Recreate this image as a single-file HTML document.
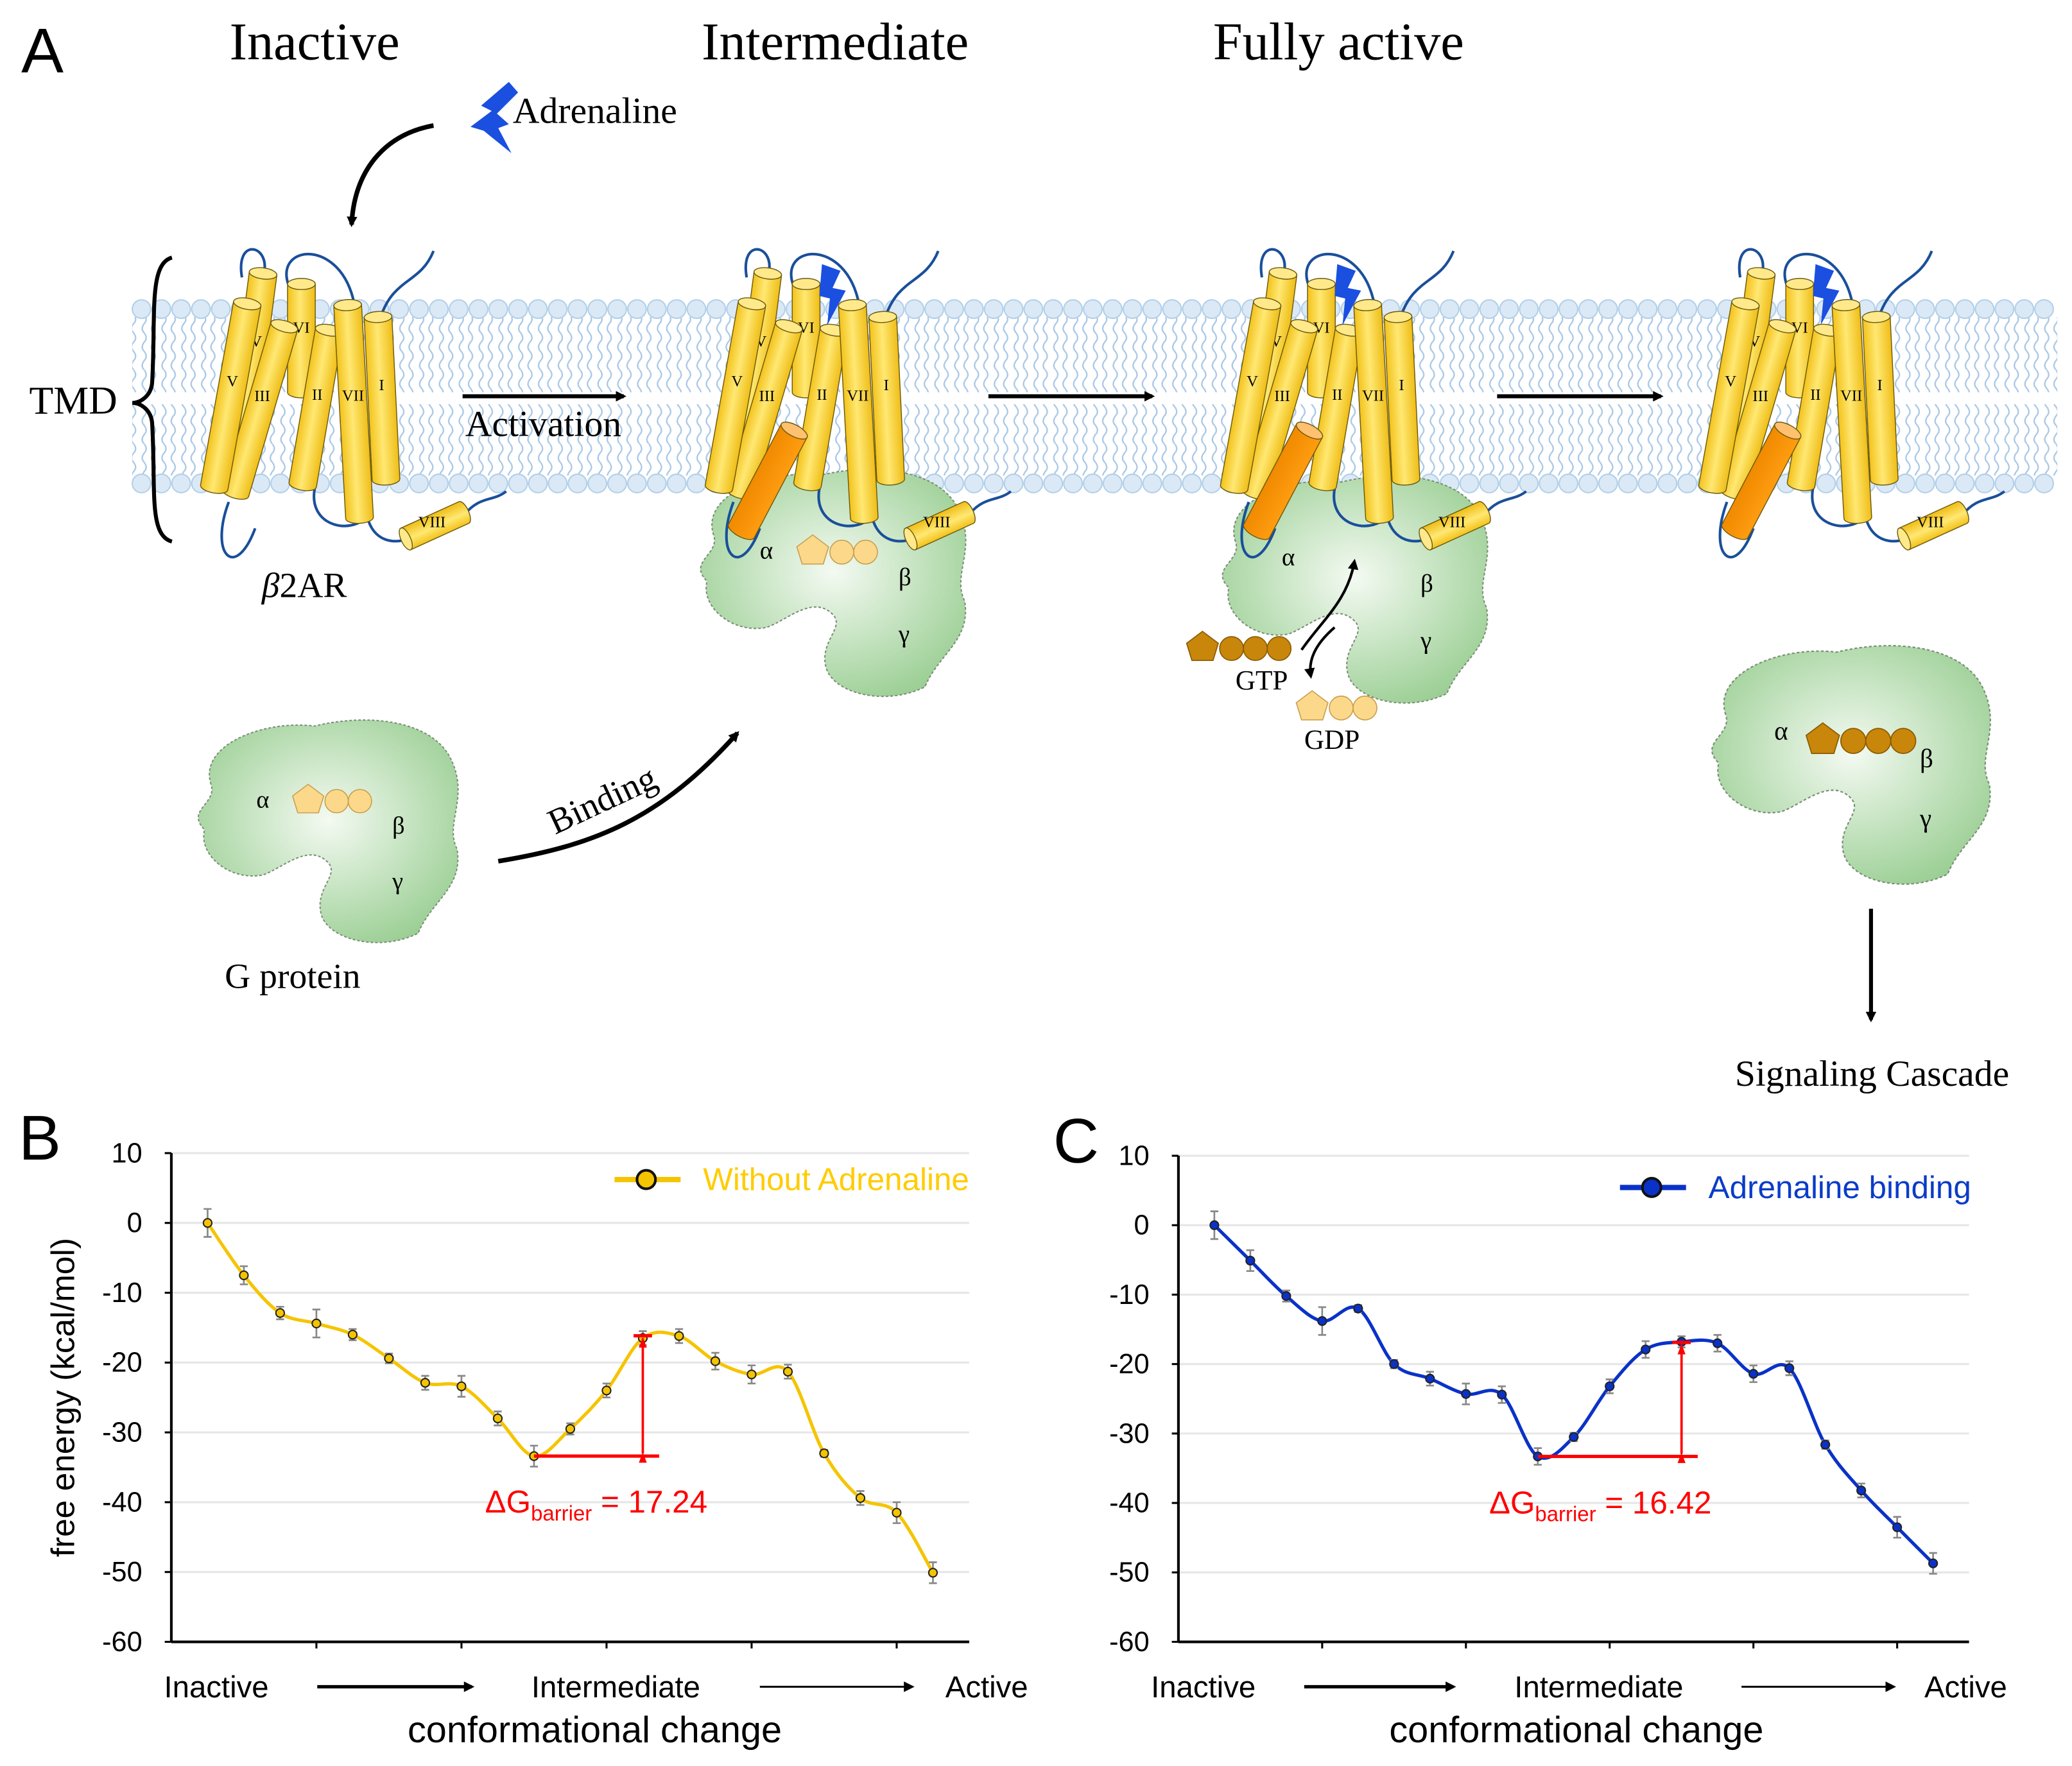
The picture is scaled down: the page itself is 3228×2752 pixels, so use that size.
<!DOCTYPE html>
<html><head><meta charset="utf-8"><style>
html,body{margin:0;padding:0;background:#fff;}
svg{display:block;}
</style></head><body>
<svg id="fig" width="3228" height="2752" viewBox="0 0 1568 1337" xmlns="http://www.w3.org/2000/svg" font-family="Liberation Sans, sans-serif">
<defs>
<pattern id="tails" width="15" height="56" patternUnits="userSpaceOnUse">
<path d="M4,0 q3,4 0,7 q-3,4 0,7 q3,4 0,7 q-3,4 0,7 q3,4 0,7 q-3,4 0,7 q3,4 0,7 q-3,4 0,7" fill="none" stroke="#a9c8e6" stroke-width="1.1"/>
<path d="M11,0 q3,4 0,7 q-3,4 0,7 q3,4 0,7 q-3,4 0,7 q3,4 0,7 q-3,4 0,7 q3,4 0,7 q-3,4 0,7" fill="none" stroke="#a9c8e6" stroke-width="1.1"/>
</pattern>
<radialGradient id="gpg" cx="0.5" cy="0.45" r="0.6"><stop offset="0" stop-color="#f4faf2"/><stop offset="1" stop-color="#9ccf95"/></radialGradient>
<linearGradient id="cylg" x1="0" x2="1" y1="0" y2="0"><stop offset="0" stop-color="#f3c21a"/><stop offset="0.45" stop-color="#ffe873"/><stop offset="1" stop-color="#efbd16"/></linearGradient>
<linearGradient id="orag" x1="0" x2="1"><stop offset="0" stop-color="#f08a00"/><stop offset="1" stop-color="#ff9c10"/></linearGradient>
<marker id="ah" markerWidth="8" markerHeight="8" refX="6" refY="4" orient="auto" markerUnits="userSpaceOnUse"><path d="M0,0 L8,4 L0,8 Z" fill="#000"/></marker>
<marker id="rah" markerWidth="8" markerHeight="8" refX="7" refY="4" orient="auto" markerUnits="userSpaceOnUse"><path d="M0,1 L8,4 L0,7 Z" fill="#ff0000"/></marker>
</defs>

<g id="panelA">
<text x="16" y="55" font-size="48">A</text>
<g font-family="Liberation Serif, serif" font-size="40">
<text x="238" y="45" text-anchor="middle">Inactive</text>
<text x="632" y="45" text-anchor="middle">Intermediate</text>
<text x="1013" y="45" text-anchor="middle">Fully active</text>
</g>
<g id="membrane">
<rect x="100" y="240" width="1457" height="57" fill="url(#tails)"/>
<rect x="100" y="306" width="1457" height="54" fill="url(#tails)"/>
<g id="heads"></g>
</g>
<g id="proteins"></g>
<g font-family="Liberation Serif, serif">
<path d="M385,62 L364,80 L372,84 L356,96 L366,99 L387,116 L377,97 L385,94 L376,86 L392,70 Z" fill="#1a4fe0"/>
<text x="388" y="93" font-size="28">Adrenaline</text>
<path d="M328,95 C290,102 268,130 266,170" fill="none" stroke="#000" stroke-width="3.5" marker-end="url(#ah)"/>
<text x="22" y="313" font-size="30">TMD</text>
<path d="M130,195 C112,200 118,240 115,290 C114,300 106,305 100,305 C106,305 114,310 115,320 C118,370 112,405 130,410" fill="none" stroke="#000" stroke-width="3"/>
<line x1="350" y1="300" x2="472" y2="300" stroke="#000" stroke-width="3" marker-end="url(#ah)"/>
<text x="352" y="330" font-size="28">Activation</text>
<line x1="748" y1="300" x2="872" y2="300" stroke="#000" stroke-width="3" marker-end="url(#ah)"/>
<line x1="1133" y1="300" x2="1257" y2="300" stroke="#000" stroke-width="3" marker-end="url(#ah)"/>
<text x="198" y="452" font-size="27"><tspan font-style="italic">β</tspan>2AR</text>
<text x="170" y="748" font-size="27">G protein</text>
<path d="M377,652 C450,640 500,620 558,555" fill="none" stroke="#000" stroke-width="3.5" marker-end="url(#ah)"/>
<text x="420" y="632" font-size="27" transform="rotate(-25 420 632)">Binding</text>
<text x="935" y="522" font-size="21">GTP</text>
<text x="987" y="567" font-size="21">GDP</text>
<path d="M985,492 C1000,470 1020,455 1025,425" fill="none" stroke="#000" stroke-width="2" marker-end="url(#ah)"/>
<path d="M1010,475 C995,488 990,500 992,512" fill="none" stroke="#000" stroke-width="2" marker-end="url(#ah)"/>
<line x1="1416" y1="688" x2="1416" y2="772" stroke="#000" stroke-width="3" marker-end="url(#ah)"/>
<text x="1313" y="822" font-size="28">Signaling Cascade</text>
</g>
</g>

<g id="chartB"></g>
<g id="chartC"></g>
</svg>
<script>
// ---------- chart data ----------
const stepIndex = [0,1,2,3,4,5,6,7,8,9,10,11,12,13,14,15,16,17,18,19,20];
const energyWithout = [0,-7.5,-12.9,-14.4,-16.0,-19.4,-22.9,-23.4,-28.0,-33.4,-29.5,-24.0,-16.5,-16.2,-19.8,-21.7,-21.3,-33.0,-39.4,-41.5,-50.1];
const errWithout = [2,1.3,0.9,2,0.8,0.7,1,1.5,1,1.5,0.8,1,1,1,1.2,1.3,1,0.5,1,1.5,1.5];
const energyWith = [0,-5.1,-10.2,-13.8,-12.0,-20.0,-22.1,-24.3,-24.4,-33.3,-30.5,-23.2,-17.9,-16.8,-17.0,-21.4,-20.6,-31.6,-38.2,-43.5,-48.7];
const errWith = [2,1.5,0.8,2,0.5,0.6,1,1.5,1.2,1.2,0.6,1,1.2,0.8,1.2,1.2,1,0.6,1,1.5,1.5];
const yTicks = [10,0,-10,-20,-30,-40,-50,-60];
const xTickIndex = [3,7,11,15,19];
const barrierB = [9,12,17.24];
const barrierC = [9,13,16.42];
const stageLabels = ["Inactive","Intermediate","Active"];

const NS="http://www.w3.org/2000/svg";
function mk(parent,tag,attrs,txt){const e=document.createElementNS(NS,tag);for(const k in attrs)e.setAttribute(k,attrs[k]);if(txt!==undefined)e.textContent=txt;parent.appendChild(e);return e;}

function spline(pts){let d="M"+pts[0][0]+","+pts[0][1];for(let i=0;i<pts.length-1;i++){const p0=pts[Math.max(i-1,0)],p1=pts[i],p2=pts[i+1],p3=pts[Math.min(i+2,pts.length-1)];const c1x=p1[0]+(p2[0]-p0[0])/6,c1y=p1[1]+(p2[1]-p0[1])/6,c2x=p2[0]-(p3[0]-p1[0])/6,c2y=p2[1]-(p3[1]-p1[1])/6;d+=" C"+c1x+","+c1y+" "+c2x+","+c2y+" "+p2[0]+","+p2[1];}return d;}

function drawChart(g,cfg){
  const x=i=>cfg.x0+i*(cfg.x1-cfg.x0)/20;
  const y=v=>cfg.yTop+(10-v)*(cfg.yBot-cfg.yTop)/70;
  const axL=x(-1), axR=x(21);
  mk(g,"text",{x:cfg.lx,y:cfg.ly,"font-size":48,},cfg.letter);
  yTicks.forEach(v=>{
    if(v>-60){const gl=mk(g,"line",{x1:axL,x2:axR,y1:y(v),y2:y(v),stroke:"#e6e6e6","stroke-width":1.5});
    
    }
    const tk=mk(g,"line",{x1:axL-5,x2:axL,y1:y(v),y2:y(v),stroke:"#000","stroke-width":1.5});
    
    
    const t=mk(g,"text",{x:axL-22,y:y(v)+7,"font-size":21,"text-anchor":"end"},String(v));
    
    
  });
  const ya=mk(g,"line",{x1:axL,x2:axL,y1:y(10),y2:y(-60),stroke:"#000","stroke-width":2});
  
  
  const xa=mk(g,"line",{x1:axL,x2:axR,y1:y(-60),y2:y(-60),stroke:"#000","stroke-width":2});
  
  
  xTickIndex.forEach(i=>{const t=mk(g,"line",{x1:x(i),x2:x(i),y1:y(-60),y2:y(-60)+5,stroke:"#000","stroke-width":1.5});
    
    });
  if(cfg.ytitle){const yt=mk(g,"text",{x:0,y:0,"font-size":25,"text-anchor":"middle",transform:"translate(56,1058) rotate(-90)"},"free energy (kcal/mol)");
    
    }
  const ly=1285;
  const l1=mk(g,"text",{x:cfg.lab[0],y:ly,"font-size":23},stageLabels[0]);
  
  
  const l2=mk(g,"text",{x:cfg.lab[1],y:ly,"font-size":23,"text-anchor":"middle"},stageLabels[1]);
  
  
  const l3=mk(g,"text",{x:cfg.lab[2],y:ly,"font-size":23,"text-anchor":"end"},stageLabels[2]);
  
  
  [[cfg.arr[0],cfg.arr[1],2.5],[cfg.arr[2],cfg.arr[3],1.5]].forEach(a=>{const ar=mk(g,"line",{x1:a[0],x2:a[1],y1:ly-8,y2:ly-8,stroke:"#000","stroke-width":a[2],"marker-end":"url(#ah)"});
    
    });
  const xt=mk(g,"text",{x:cfg.lab[3],y:1319,"font-size":28,"text-anchor":"middle"},"conformational change");
  
  
  // series
  const pts=stepIndex.map(i=>[x(i),y(cfg.vals[i])]);
  const ln=mk(g,"path",{d:spline(pts),fill:"none",stroke:cfg.color,"stroke-width":2.5});
  
  
  stepIndex.forEach(i=>{
    const e=cfg.errs[i], cx=x(i);
    const eb=mk(g,"path",{d:`M${cx},${y(cfg.vals[i]+e)}V${y(cfg.vals[i]-e)}M${cx-3},${y(cfg.vals[i]+e)}H${cx+3}M${cx-3},${y(cfg.vals[i]-e)}H${cx+3}`,stroke:"#888","stroke-width":1.3,fill:"none"});
    
    
    const c=mk(g,"circle",{cx:cx,cy:y(cfg.vals[i]),r:3.2,fill:cfg.color,stroke:"#222","stroke-width":1});
    
    
  });
  // barrier
  const bmin=cfg.vals[cfg.bar[0]], btop=bmin+cfg.bar[2];
  const hl=mk(g,"line",{x1:x(cfg.bar[0]),x2:x(cfg.bar[1]+0.45),y1:y(bmin),y2:y(bmin),stroke:"#ff0000","stroke-width":2.5});
  
  
  const cap=mk(g,"line",{x1:x(cfg.bar[1])-7,x2:x(cfg.bar[1])+7,y1:y(btop),y2:y(btop),stroke:"#ff0000","stroke-width":2.5});
  
  
  const vl=mk(g,"line",{x1:x(cfg.bar[1]),x2:x(cfg.bar[1]),y1:y(bmin)-2,y2:y(btop)+2,stroke:"#ff0000","stroke-width":1.8,"marker-end":"url(#rah)","marker-start":"url(#rah)"});
  
  
  const bt=mk(g,"text",{x:cfg.bx,y:y(-41.5),"font-size":24,fill:"#ff0000"});
  
  
  mk(bt,"tspan",{},"ΔG");
  mk(bt,"tspan",{"font-size":16,dy:6},"barrier");
  mk(bt,"tspan",{dy:-6}," = "+cfg.bar[2].toFixed(2));
  // legend
  const lg=mk(g,"g",{});
  
  
  mk(lg,"line",{x1:cfg.lgx,x2:cfg.lgx+50,y1:cfg.lgy,y2:cfg.lgy,stroke:cfg.color,"stroke-width":4});
  mk(lg,"circle",{cx:cfg.lgx+24,cy:cfg.lgy,r:7,fill:cfg.color,stroke:"#111","stroke-width":2});
  mk(lg,"text",{x:cfg.lgx+67,y:cfg.lgy+8,"font-size":24,fill:cfg.tcolor},cfg.name);
}
drawChart(document.getElementById("chartB"),{x0:157,x1:706,yTop:873,yBot:1243,vals:energyWithout,errs:errWithout,color:"#f5c400",tcolor:"#ffcc00",name:"Without Adrenaline",letter:"B",lx:14,ly:878,ytitle:true,bar:barrierB,bx:367,lgx:465,lgy:893,lab:[124,466,778,450],arr:[240,357,575,690]});
drawChart(document.getElementById("chartC"),{x0:919,x1:1463,yTop:875,yBot:1243,vals:energyWith,errs:errWith,color:"#0a32c8",tcolor:"#0a3cc8",name:"Adrenaline binding",letter:"C",lx:797,ly:880,ytitle:false,bar:barrierC,bx:1127,lgx:1226,lgy:899,lab:[871,1210,1519,1193],arr:[987,1100,1318,1433]});

// ---------- membrane heads ----------
const heads=document.getElementById("heads");
for(let xx=107;xx<1557;xx+=15){
  mk(heads,"circle",{cx:xx,cy:234,r:7,fill:"#dbe9f6",stroke:"#b2cfe9","stroke-width":1});
  mk(heads,"circle",{cx:xx,cy:366,r:7,fill:"#dbe9f6",stroke:"#b2cfe9","stroke-width":1});
}
// ---------- proteins ----------
const P=document.getElementById("proteins");
function cyl(g,x1,y1,x2,y2,w,fill,label){
  const dx=x2-x1,dy=y2-y1,L=Math.hypot(dx,dy),ang=Math.atan2(dy,dx)*180/Math.PI-90;
  const c=mk(g,"g",{transform:`translate(${x1},${y1}) rotate(${ang})`});
  const h=w/2,ry=w/5;
  mk(c,"path",{d:`M${-h},0 L${-h},${L} A${h},${ry} 0 0 0 ${h},${L} L${h},0 Z`,fill:fill,stroke:"#6b5a10","stroke-width":0.7});
  mk(c,"ellipse",{cx:0,cy:0,rx:h,ry:ry,fill:fill==="url(#orag)"?"#ffc070":"#ffe98a",stroke:"#6b5a10","stroke-width":0.7});
  if(label){mk(c,"text",{x:0,y:L*0.45,"font-size":12,"text-anchor":"middle","font-family":"Liberation Serif, serif",transform:`rotate(${-ang} 0 ${L*0.45})`},label);}
}
const gpPath="M20,60 C10,30 60,10 100,15 C140,5 190,10 205,40 C220,70 200,90 210,110 C215,140 190,150 180,175 C150,190 110,180 105,160 C100,140 120,130 110,120 C95,105 75,125 60,130 C35,135 10,115 15,95 C0,80 25,75 20,60Z";
function gprot(tx,ty,s,nuc,dark,name){
  const g=mk(P,"g",{transform:`translate(${tx},${ty}) scale(${s})`});
  
  
  mk(g,"path",{d:gpPath,fill:"url(#gpg)",stroke:"#7a8f76","stroke-width":1,"stroke-dasharray":"2,1.5"});
  mk(g,"text",{x:55,y:78,"font-size":19,"font-family":"Liberation Serif, serif"},"α");
  mk(g,"text",{x:160,y:98,"font-size":19,"font-family":"Liberation Serif, serif"},"β");
  mk(g,"text",{x:160,y:141,"font-size":19,"font-family":"Liberation Serif, serif"},"γ");
  if(nuc){nucleotide(g,nuc[0],nuc[1],dark,nuc[2]);}
}
function nucleotide(g,x0,y0,dark,n){
  const f=dark?"#c8870a":"#fcd98a",st=dark?"#8a5a00":"#c9a050";
  mk(g,"path",{d:`M${x0},${y0-12} L${x0+12},${y0-3} L${x0+8},${y0+10} L${x0-8},${y0+10} L${x0-12},${y0-3} Z`,fill:f,stroke:st,"stroke-width":0.8});
  for(let k=0;k<n;k++)mk(g,"circle",{cx:x0+22+k*18,cy:y0+1,r:9,fill:f,stroke:st,"stroke-width":0.8});
}
gprot(520,345,1,[95,72,2],false,"g-protein-intermediate");
gprot(915,350,1,null,false,"g-protein-active");
gprot(140,535,0.98,[95,72,2],false,"g-protein-free");
gprot(1285,478,1.05,[90,78,3],true,"g-protein-released");
const gx=mk(P,"g",{});


nucleotide(gx,910,490,true,3);
nucleotide(gx,993,535,false,2);

const helices=[["IV",581,207,565,330],["VI",610,215,610,297],["II",631,250,611,367],["III",597,247,560,373],["V",569,230,544,369],["I",668,240,674,363],["VII",645,231,654,392]];
function receptor(dx,active,name){
  const g=mk(P,"g",{});
  
  
  mk(g,"path",{d:`M${565+dx},210 C${560+dx},180 ${585+dx},185 ${582+dx},205 M${600+dx},215 C${590+dx},185 ${640+dx},180 ${650+dx},230 M${670+dx},240 C${680+dx},210 ${700+dx},215 ${710+dx},190 M${555+dx},380 C${540+dx},420 ${560+dx},440 ${575+dx},400 M${620+dx},370 C${615+dx},400 ${650+dx},405 ${660+dx},390 M${660+dx},392 C${665+dx},410 ${680+dx},412 ${690+dx},408 M${733+dx},390 C${745+dx},375 ${755+dx},380 ${765+dx},372`,fill:"none",stroke:"#1a4f9a","stroke-width":2});
  helices.forEach(h=>cyl(g,h[1]+dx,h[2],h[3]+dx,h[4],21,"url(#cylg)",h[0]));
  if(active){
    mk(g,"path",{d:`M${622+dx},200 L${636+dx},205 L${630+dx},218 L${640+dx},220 L${626+dx},246 L${628+dx},226 L${620+dx},224 Z`,fill:"#1a4fe0"});
    cyl(g,601+dx,326,561+dx,402,22,"url(#orag)",null);
  }
  cyl(g,689+dx,408,733+dx,388,18,"url(#cylg)","VIII");
}
receptor(-382,false,"receptor-inactive");
receptor(0,true,"receptor-intermediate");
receptor(390,true,"receptor-active");
receptor(752,true,"receptor-released");
</script>
</body></html>
